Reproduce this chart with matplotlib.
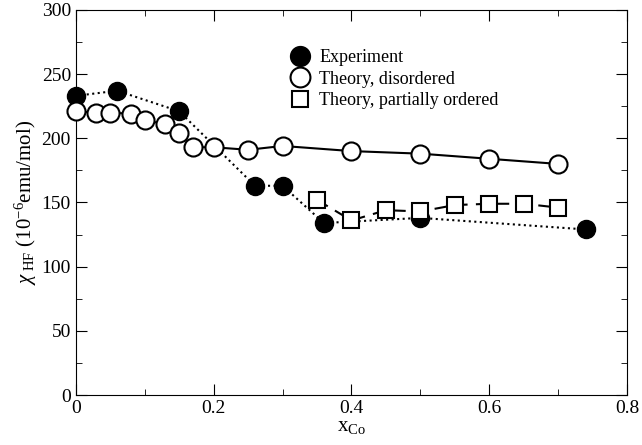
import numpy as np
import matplotlib
matplotlib.use("Agg")
import matplotlib.pyplot as plt
from matplotlib.ticker import MultipleLocator, FuncFormatter

plt.rcParams["font.family"] = ["Liberation Serif", "DejaVu Serif"]
plt.rcParams["mathtext.fontset"] = "custom"
plt.rcParams["mathtext.rm"] = "Liberation Serif"
plt.rcParams["mathtext.it"] = "Liberation Serif:italic"

# experiment
x_exp = [0.0, 0.06, 0.15, 0.26, 0.30, 0.36, 0.50, 0.74]
y_exp = [233, 237, 221, 163, 163, 134, 138, 129]

# theory, disordered
x_dis = [0.0, 0.03, 0.05, 0.08, 0.10, 0.13, 0.15, 0.17, 0.20, 0.25, 0.30, 0.40, 0.50, 0.60, 0.70]
y_dis = [221, 220, 220, 219, 214, 211, 204, 193, 193, 191, 194, 190, 188, 184, 180]

# theory, partially ordered
x_ord = [0.35, 0.40, 0.45, 0.50, 0.55, 0.60, 0.65, 0.70]
y_ord = [152, 136, 144, 143, 148, 149, 149, 146]

fig = plt.figure(figsize=(6.42, 4.45), dpi=100)
ax = fig.add_axes([0.118, 0.112, 0.859, 0.866])

ax.plot(x_exp, y_exp, color="black", linestyle=":", linewidth=1.5,
        marker="o", markersize=13, markerfacecolor="black", label="Experiment",
        clip_on=False, zorder=3)
ax.plot(x_dis, y_dis, color="black", linestyle="-", linewidth=1.5,
        marker="o", markersize=13, markerfacecolor="white", markeredgewidth=1.5,
        label="Theory, disordered", clip_on=False, zorder=4)
ax.plot(x_ord, y_ord, color="black", linestyle=(0, (6, 4)), linewidth=1.5,
        marker="s", markersize=11, markerfacecolor="white", markeredgewidth=1.5,
        label="Theory, partially ordered", clip_on=False, zorder=4)

ax.set_xlim(0, 0.8)
ax.set_ylim(0, 300)
ax.xaxis.set_major_locator(MultipleLocator(0.2))
ax.xaxis.set_minor_locator(MultipleLocator(0.1))
ax.yaxis.set_major_locator(MultipleLocator(50))
ax.yaxis.set_minor_locator(MultipleLocator(25))
ax.xaxis.set_major_formatter(FuncFormatter(lambda v, p: "0" if abs(v) < 1e-9 else f"{v:.1f}"))
ax.tick_params(which="both", direction="in", top=True, right=True, labelsize=14)
ax.tick_params(which="major", length=8)
ax.tick_params(which="minor", length=4)

ax.set_xlabel(r"x$_{\rm Co}$", fontsize=15, labelpad=0)
ax.set_ylabel(r"$\chi_{\rm \ HF}$ (10$^{-6}$emu/mol)", fontsize=15, labelpad=2)

ax.legend(loc="upper left", bbox_to_anchor=(0.36, 0.94), frameon=False,
          fontsize=13, handlelength=1.0, handletextpad=0.6, labelspacing=0.25,
          markerscale=1.1)

fig.savefig("out.png", dpi=100)
